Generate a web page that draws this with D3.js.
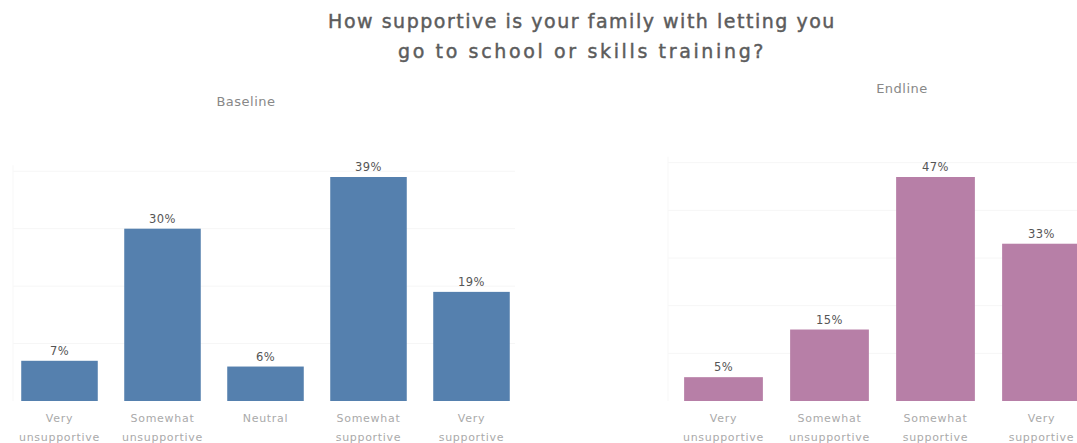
<!DOCTYPE html>
<html>
<head>
<meta charset="utf-8">
<script src="https://cdn.jsdelivr.net/npm/d3@7"></script>
<style>
  html, body { margin: 0; padding: 0; background: #fff; }
  svg { display: block; }
  text { font-family: "DejaVu Sans", "Open Sans", sans-serif; }
</style>
</head>
<body>
<svg id="chart" width="1077" height="443"></svg>
<script>
// ---- Data ----
const titleLines = ["How supportive is your family with letting you", "go to school or skills training?"];

const baselineCategories = [
  ["Very", "unsupportive"],
  ["Somewhat", "unsupportive"],
  ["Neutral"],
  ["Somewhat", "supportive"],
  ["Very", "supportive"]
];
const baselineValues = [7, 30, 6, 39, 19];

const endlineCategories = [
  ["Very", "unsupportive"],
  ["Somewhat", "unsupportive"],
  ["Somewhat", "supportive"],
  ["Very", "supportive"]
];
const endlineValues = [5, 15, 47, 33];

const gridTicksBaseline = [10, 20, 30, 40];
const gridTicksEndline = [10, 20, 30, 40, 50];

// ---- Drawing ----
const svg = d3.select("#chart");

function fitWidth(node, target) {
  const len = node.getComputedTextLength();
  const n = node.textContent.length;
  d3.select(node).attr("letter-spacing", ((target - len) / n).toFixed(2));
}

const titleWidths = [508, 368];
svg.append("g").selectAll("text").data(titleLines).join("text")
  .attr("x", 582).attr("y", (d, i) => 28 + i * 30)
  .attr("text-anchor", "middle")
  .attr("font-size", 19)
  .attr("fill", "#5c5c5c")
  .attr("stroke", "#5c5c5c").attr("stroke-width", 0.45)
  .text(d => d)
  .each(function (d, i) { fitWidth(this, titleWidths[i]); });

function panel(cfg) {
  const g = svg.append("g");
  const x = d3.scaleBand()
    .domain(cfg.categories.map((d, i) => i))
    .range(cfg.xRange)
    .paddingInner(0.257).paddingOuter(0.1285);
  const y = d3.scaleLinear().domain([0, cfg.maxVal]).range([401, 177]);

  // faint gridlines
  g.append("g").selectAll("line").data(cfg.grid).join("line")
    .attr("x1", cfg.gridX[0]).attr("x2", cfg.gridX[1])
    .attr("y1", d => y(d)).attr("y2", d => y(d))
    .attr("stroke", "#f6f6f6").attr("stroke-width", 1);
  g.append("line")
    .attr("x1", cfg.gridX[0]).attr("x2", cfg.gridX[0])
    .attr("y1", y(cfg.grid[cfg.grid.length - 1]) - 6).attr("y2", 401)
    .attr("stroke", "#f7f7f7");

  // subtitle
  g.append("text")
    .attr("x", cfg.subX).attr("y", cfg.subY)
    .attr("text-anchor", "middle")
    .attr("font-size", 13).attr("fill", "#888")
    .attr("letter-spacing", 0.5)
    .text(cfg.subtitle);

  // bars
  g.append("g").selectAll("rect").data(cfg.values).join("rect")
    .attr("x", (d, i) => x(i))
    .attr("width", x.bandwidth())
    .attr("y", d => y(d))
    .attr("height", d => y(0) - y(d))
    .attr("fill", cfg.color);

  // value labels
  g.append("g").selectAll("text").data(cfg.values).join("text")
    .attr("x", (d, i) => x(i) + x.bandwidth() / 2)
    .attr("y", d => y(d) - 6)
    .attr("text-anchor", "middle")
    .attr("font-size", 11.5).attr("fill", "#555")
    .attr("letter-spacing", 0.5)
    .text(d => d + "%");

  // category labels
  const cat = g.append("g").selectAll("text").data(cfg.categories).join("text")
    .attr("x", (d, i) => x(i) + x.bandwidth() / 2)
    .attr("y", 422)
    .attr("text-anchor", "middle")
    .attr("font-size", 11).attr("fill", "#aaaaaa")
    .attr("letter-spacing", 0.7);
  cat.selectAll("tspan").data(d => d).join("tspan")
    .attr("x", function () { return d3.select(this.parentNode).attr("x"); })
    .attr("dy", (d, i) => i === 0 ? 0 : 19)
    .text(d => d);
}

panel({
  categories: baselineCategories, values: baselineValues, maxVal: 39,
  xRange: [8, 523], gridX: [13, 515], grid: gridTicksBaseline,
  color: "#5580ae", subtitle: "Baseline", subX: 246, subY: 106
});
panel({
  categories: endlineCategories, values: endlineValues, maxVal: 47,
  xRange: [670.5, 1094.5], gridX: [668, 1077], grid: gridTicksEndline,
  color: "#b77fa7", subtitle: "Endline", subX: 902, subY: 93
});
</script>
</body>
</html>
